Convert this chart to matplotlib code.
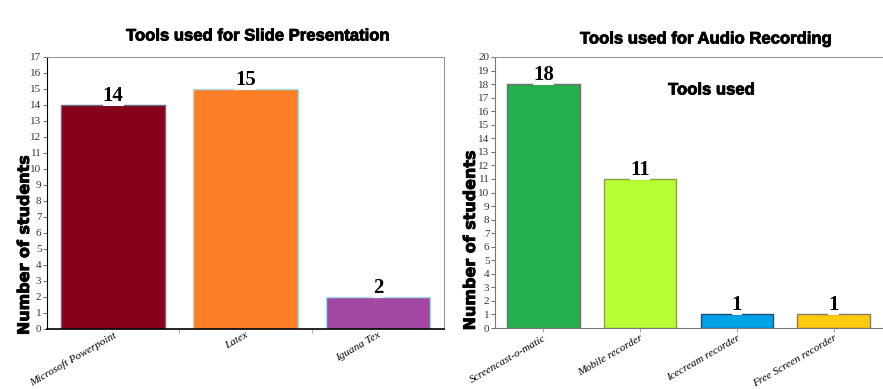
import numpy as np
import matplotlib
matplotlib.use('Agg')
import matplotlib.pyplot as plt
import matplotlib.patheffects as pe

# --- Datos ---
slide_tools = ['Microsoft Powerpoint', 'Latex', 'Iguana Tex']
slide_counts = [14, 15, 2]
slide_colors = ['#870019', '#FE7F28', '#A349A4']
slide_edges = ['#5E6E7E', '#A8DCEA', '#A8DCEA']

audio_tools = ['Screencast-o-matic', 'Mobile recorder', 'Icecream recorder', 'Free Screen recorder']
audio_counts = [18, 11, 1, 1]
audio_colors = ['#22B14C', '#B7FF33', '#00A2E8', '#FFC90E']
audio_edges = ['#707070', '#8CA040', '#1F4E79', '#8A7A60']

W, H = 883, 389
fig = plt.figure(figsize=(W / 100, H / 100), dpi=100)
bold_fx = [pe.withStroke(linewidth=0.6, foreground='black')]


def px_axes(x0, y0, x1, y1):
    return fig.add_axes([x0 / W, 1 - y1 / H, (x1 - x0) / W, (y1 - y0) / H])


def draw_panel(ax, names, counts, colors, edges, ymax, width):
    x = np.arange(len(names))
    ax.bar(x, counts, width=width, color=colors, edgecolor=edges, linewidth=1.0, zorder=2)
    for xi, c in zip(x, counts):
        ax.text(xi, c - 0.05, str(c), ha='center', va='bottom', fontsize=15,
                fontweight='bold', family='Liberation Serif', color='black',
                bbox=dict(facecolor='white', edgecolor='none', pad=0.02), zorder=3)
    ax.set_xlim(-0.5, len(names) - 0.5)
    ax.set_ylim(0, ymax)
    ax.set_yticks(range(0, ymax + 1))
    ax.set_yticklabels([str(v) for v in range(0, ymax + 1)], family='Liberation Serif',
                       fontsize=8, color='#333333')
    ax.set_xticks(x)
    ax.set_xticklabels(names, rotation=30, ha='right', rotation_mode='anchor',
                       family='Liberation Serif', style='italic', fontsize=8)
    ax.tick_params(axis='y', length=3, width=0.6, pad=1, color='#555555')
    ax.tick_params(axis='x', length=3, width=0.6, pad=1, color='#999999')
    ax.set_ylabel('Number of students', fontsize=11.5, fontweight='heavy',
                  family='DejaVu Sans', path_effects=[pe.withStroke(linewidth=0.6, foreground='black')])
    for s in ['top', 'right']:
        ax.spines[s].set_color('#999999')
        ax.spines[s].set_linewidth(0.8)


# Panel izquierdo
ax1 = px_axes(47, 57, 444, 329)
draw_panel(ax1, slide_tools, slide_counts, slide_colors, slide_edges, 17, 0.79)
ax1.spines['left'].set_color('black')
ax1.spines['bottom'].set_color('black')
ax1.spines['bottom'].set_linewidth(1.2)
ax1.tick_params(axis='x', which='major', length=0)
ax1.set_xticks([0.5, 1.5], minor=True)
ax1.tick_params(axis='x', which='minor', length=3, color='#999999')
ax1.yaxis.set_label_coords(-0.038, 0.31)
fig.text(257 / W, 1 - 36 / H, 'Tools used for Slide Presentation', ha='center', va='center',
         fontsize=12, fontweight='bold', family='Liberation Sans', path_effects=bold_fx)

# Panel derecho
ax2 = px_axes(495, 57, 882, 328)
draw_panel(ax2, audio_tools, audio_counts, audio_colors, audio_edges, 20, 0.75)
ax2.spines['left'].set_color('#777777')
ax2.spines['bottom'].set_color('#777777')
ax2.spines['right'].set_visible(False)
ax2.yaxis.set_label_coords(-0.044, 0.325)
fig.text(705 / W, 1 - 39 / H, 'Tools used for Audio Recording', ha='center', va='center',
         fontsize=12, fontweight='bold', family='Liberation Sans', path_effects=bold_fx)
fig.text(711 / W, 1 - 90 / H, 'Tools used', ha='center', va='center',
         fontsize=12, fontweight='bold', family='Liberation Sans', path_effects=bold_fx)

fig.savefig('out.png', dpi=100)
